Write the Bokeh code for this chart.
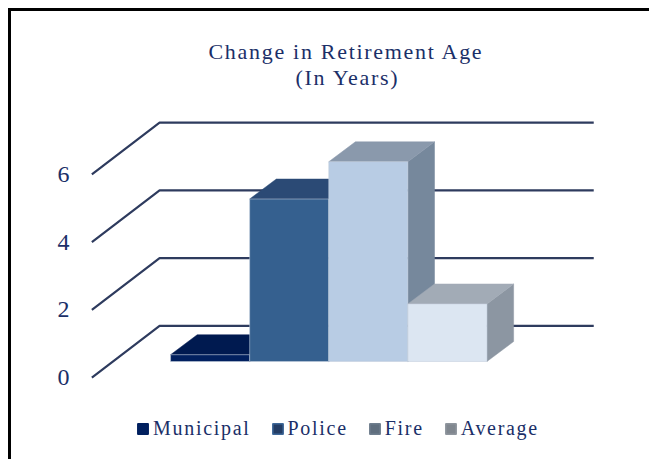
from bokeh.plotting import figure
from bokeh.models import Range1d, FixedTicker, Legend, LegendItem, ColumnDataSource, Title
from bokeh.embed import file_html
from bokeh.resources import INLINE

# --- data ---
categories = ["Municipal", "Police", "Fire", "Average"]
values = [0.2, 4.8, 5.9, 1.7]
y_ticks = [0, 2, 4, 6]
title_lines = ["Change in Retirement Age", "(In Years)"]
title_offsets = [130, 217]
title_standoffs = [-19, 17]

front_colors = ["#01205F", "#35608F", "#B8CCE4", "#DCE6F2"]
top_colors = ["#001A50", "#2B4A75", "#8A99AC", "#A2ABB6"]
side_colors = ["#001A50", "#2B4A75", "#76889C", "#8C96A2"]
legend_fills = ["#01205F", "#233C64", "#5F6E7E", "#80878F"]
legend_edges = ["#01205F", "#3F6899", "#6F7E8E", "#8F969E"]

TEXT = "#1B2F68"
GRID = "#2E3B5E"
nan = float("nan")

# Oblique projection, in data units (1 x-unit = one bar, y-unit = chart value)
WALL_X0, WALL_DX, WALL_X1 = -0.995, 0.856, 5.35
WALL_DY = 1.527
BAR_BASE = 0.473
BAR_DX, BAR_DY = 0.337, 0.59

p = figure(width=641, height=451, output_backend="svg", toolbar_location=None,
           x_range=Range1d(-1.164, 6.055), y_range=Range1d(-2.422, 8.242),
           min_border_left=70, min_border_right=0, min_border_top=90, min_border_bottom=0,
           title=None)
p.styles = {"letter-spacing": "1.7px", "margin-left": "8px", "margin-top": "8px",
            "background-color": "white", "box-shadow": "inset 3px 3px 0 0 black"}
p.border_fill_alpha = 0
p.background_fill_alpha = 0
p.outline_line_color = None
p.grid.visible = False
p.xaxis.visible = False

ax = p.yaxis[0]
ax.ticker = FixedTicker(ticks=y_ticks)
ax.axis_line_color = None
ax.major_tick_line_color = None
ax.minor_tick_line_color = None
ax.major_label_text_font = "Liberation Serif"
ax.major_label_text_font_size = "24px"
ax.major_label_text_color = TEXT
ax.major_label_standoff = 3

for line, off, so in reversed(list(zip(title_lines, title_offsets, title_standoffs))):
    p.add_layout(Title(text=line, align="left", offset=off, standoff=so,
                       text_font="Liberation Serif", text_font_size="22px",
                       text_font_style="normal", text_color=TEXT), "above")

# walls: one polyline per tick
p.multi_line(
    xs=[[WALL_X0, WALL_X0 + WALL_DX, WALL_X1] for _ in y_ticks],
    ys=[[v, v + WALL_DY, v + WALL_DY] for v in y_ticks],
    line_color=GRID, line_width=2.2)

# bars, left to right so that each one covers the previous one's side
for i, (v, fc, tc, sc) in enumerate(zip(values, front_colors, top_colors, side_colors)):
    y0, y1 = BAR_BASE, BAR_BASE + v
    x0, x1 = i, i + 1
    p.patch([x1, x1 + BAR_DX, x1 + BAR_DX, x1], [y0, y0 + BAR_DY, y1 + BAR_DY, y1],
            fill_color=sc, line_color=sc, line_width=0.5)
    p.patch([x0, x0 + BAR_DX, x1 + BAR_DX, x1], [y1, y1 + BAR_DY, y1 + BAR_DY, y1],
            fill_color=tc, line_color=tc, line_width=0.5)
    p.quad(left=x0, right=x1, bottom=y0, top=y1, fill_color=fc,
           line_color="#C3CEDD", line_width=0.8, line_alpha=0.7)

# legend swatches: off-chart NaN rows, only the legend shows them
items = []
for name, c, e in zip(categories, legend_fills, legend_edges):
    src = ColumnDataSource(dict(l=[nan], r=[nan], b=[nan], t=[nan]))
    r = p.quad(left="l", right="r", bottom="b", top="t", source=src,
               fill_color=c, line_color=e, line_width=1.5)
    items.append(LegendItem(label=name, renderers=[r]))

leg = Legend(items=items, orientation="horizontal", location=(58, 19),
             border_line_color=None, background_fill_alpha=0,
             label_text_font="Liberation Serif", label_text_font_size="20px",
             label_text_color=TEXT, glyph_width=13, glyph_height=13,
             label_standoff=4, spacing=20, margin=0, padding=0)
p.add_layout(leg, "center")

open("out.html", "w").write(file_html(p, INLINE))
